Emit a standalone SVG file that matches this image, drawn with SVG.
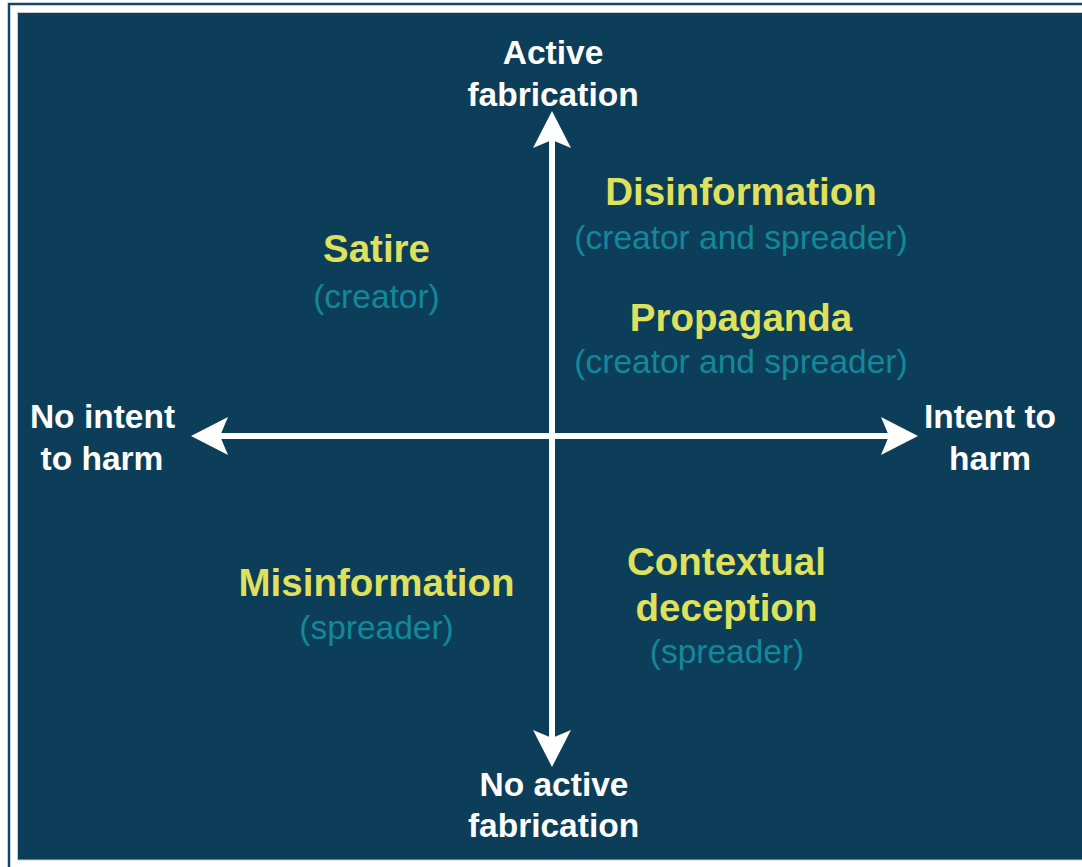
<svg xmlns="http://www.w3.org/2000/svg" width="1082" height="867" viewBox="0 0 1082 867">
<style>
.ax{font-family:"Liberation Sans",Arial,sans-serif;font-weight:bold;font-size:33.5px;fill:#ffffff;text-anchor:middle}
.tt{font-family:"Liberation Sans",Arial,sans-serif;font-weight:bold;font-size:38.5px;fill:#dfe15c;text-anchor:middle}
.st{font-family:"Liberation Sans",Arial,sans-serif;font-size:33.5px;fill:#13889a;text-anchor:middle}
.axis{stroke:#ffffff;stroke-width:6;fill:none}
</style>
<defs>
<marker id="ah" viewBox="0 0 40 40" refX="8" refY="20" markerWidth="40" markerHeight="40" orient="auto-start-reverse" markerUnits="userSpaceOnUse">
<path d="M0,1 L37,20 L0,39 L8,20 Z" fill="#ffffff"/>
</marker>
</defs>
<rect x="0" y="0" width="1082" height="867" fill="#ffffff"/>
<rect x="9" y="4" width="1100" height="900" fill="none" stroke="#16476a" stroke-width="2.5"/>
<rect x="17.5" y="12.5" width="1080" height="847.5" fill="#0c3d59" stroke="#c5cdd3" stroke-width="1"/>
<g id="connectors">
<line class="axis" x1="552" y1="140" x2="552" y2="738" marker-start="url(#ah)" marker-end="url(#ah)"/>
<line class="axis" x1="220" y1="436" x2="889" y2="436" marker-start="url(#ah)" marker-end="url(#ah)"/>
</g>
<g id="label-top"><text class="ax" x="553" y="64">Active</text><text class="ax" x="553" y="106">fabrication</text></g>
<g id="label-bottom"><text class="ax" x="554" y="796">No active</text><text class="ax" x="553.5" y="837">fabrication</text></g>
<g id="label-left"><text class="ax" x="102.5" y="428">No intent</text><text class="ax" x="102" y="470">to harm</text></g>
<g id="label-right"><text class="ax" x="990" y="428">Intent to</text><text class="ax" x="990" y="470">harm</text></g>
<g id="satire"><text class="tt" x="376.5" y="262">Satire</text><text class="st" x="376.5" y="308">(creator)</text></g>
<g id="disinformation"><text class="tt" x="741" y="205">Disinformation</text><text class="st" x="741" y="249">(creator and spreader)</text></g>
<g id="propaganda"><text class="tt" x="741" y="331">Propaganda</text><text class="st" x="741" y="373">(creator and spreader)</text></g>
<g id="misinformation"><text class="tt" x="376.5" y="596">Misinformation</text><text class="st" x="376.5" y="639">(spreader)</text></g>
<g id="contextual-deception"><text class="tt" x="726.5" y="575">Contextual</text><text class="tt" x="726.5" y="621">deception</text><text class="st" x="727" y="663">(spreader)</text></g>
</svg>
